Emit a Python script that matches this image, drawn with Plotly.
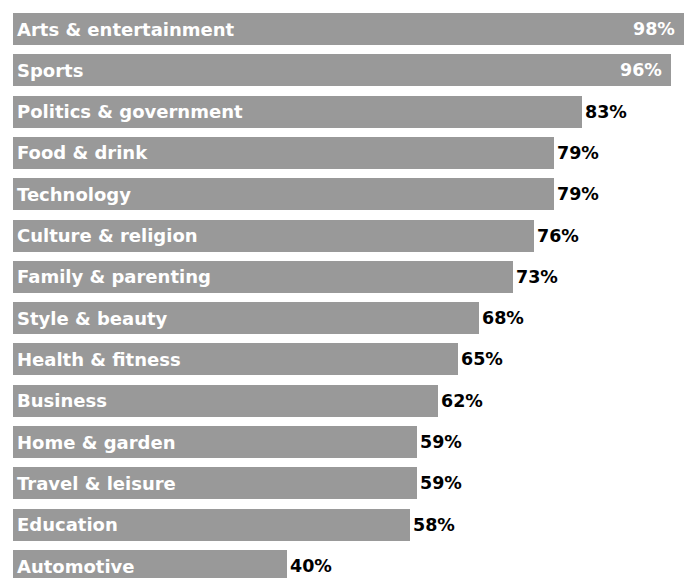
import plotly.graph_objects as go

categories = [
    "Arts & entertainment", "Sports", "Politics & government", "Food & drink",
    "Technology", "Culture & religion", "Family & parenting", "Style & beauty",
    "Health & fitness", "Business", "Home & garden", "Travel & leisure",
    "Education", "Automotive",
]
values = [98, 96, 83, 79, 79, 76, 73, 68, 65, 62, 59, 59, 58, 40]
value_labels = [f"{v}%" for v in values]

BAR_COLOR = "#999999"
FONT = "DejaVu Sans"
idx = list(range(len(categories)))

fig = go.Figure(
    go.Bar(
        x=values,
        y=idx,
        orientation="h",
        width=0.775,
        marker=dict(color=BAR_COLOR, line=dict(width=0)),
        hoverinfo="skip",
    )
)

annotations = []
for i, (cat, v, lab) in enumerate(zip(categories, values, value_labels)):
    # category name inside the bar, left aligned
    annotations.append(dict(
        x=0, y=i, xref="x", yref="y", text=cat, showarrow=False,
        xanchor="left", yanchor="middle", xshift=2,
        font=dict(family=FONT, size=18, color="white", weight="bold"),
    ))
    # value: inside in white for the longest bars, outside in black otherwise
    inside = v >= 90
    annotations.append(dict(
        x=v, y=i, xref="x", yref="y", text=lab, showarrow=False,
        xanchor="right" if inside else "left", yanchor="middle",
        xshift=-7 if inside else 1,
        font=dict(family=FONT, size=17.5, color="white" if inside else "black",
                  weight="bold"),
    ))

fig.update_layout(
    width=688, height=578,
    margin=dict(l=13, r=0, t=0, b=0),
    paper_bgcolor="white", plot_bgcolor="white",
    showlegend=False,
    bargap=0,
    annotations=annotations,
    xaxis=dict(range=[0, 675 / 6.85], visible=False, fixedrange=True),
    yaxis=dict(range=[13.29, -0.702], visible=False, fixedrange=True),
)

fig.write_html("out.html")
